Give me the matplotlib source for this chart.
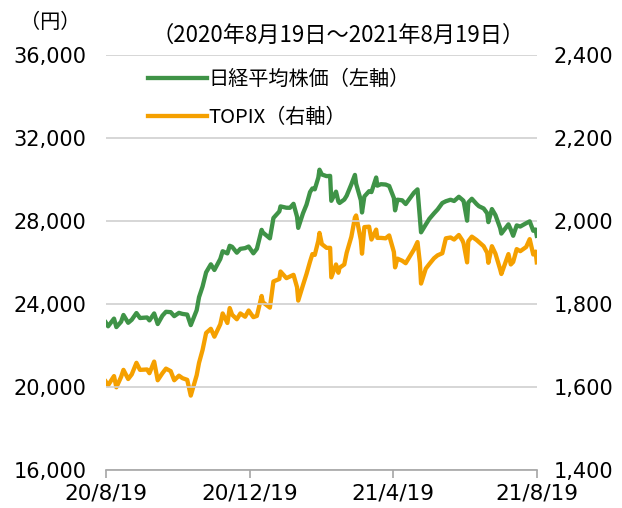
import pandas as pd
import matplotlib
matplotlib.use('Agg')
import matplotlib.pyplot as plt
import matplotlib.ticker as ticker

plt.rcParams['font.family'] = ['DejaVu Sans', 'Noto Sans CJK JP']
jp = ['Noto Sans CJK JP', 'DejaVu Sans']

dates = ['2020-08-19', '2020-08-21', '2020-08-26', '2020-08-28', '2020-09-01', '2020-09-03',
         '2020-09-07', '2020-09-10', '2020-09-14', '2020-09-17', '2020-09-23', '2020-09-25',
         '2020-09-29', '2020-10-02', '2020-10-06', '2020-10-09', '2020-10-13', '2020-10-16',
         '2020-10-20', '2020-10-23', '2020-10-27', '2020-10-30', '2020-11-04', '2020-11-06',
         '2020-11-09', '2020-11-12', '2020-11-16', '2020-11-19', '2020-11-24', '2020-11-26',
         '2020-11-30', '2020-12-02', '2020-12-04', '2020-12-08', '2020-12-11', '2020-12-15',
         '2020-12-18', '2020-12-22', '2020-12-25', '2020-12-29', '2020-12-30', '2021-01-05',
         '2021-01-08', '2021-01-13', '2021-01-14', '2021-01-19', '2021-01-22', '2021-01-25',
         '2021-01-28', '2021-01-29', '2021-02-02', '2021-02-05', '2021-02-08', '2021-02-10',
         '2021-02-12', '2021-02-15', '2021-02-16', '2021-02-18', '2021-02-22', '2021-02-25',
         '2021-02-26', '2021-03-02', '2021-03-04', '2021-03-05', '2021-03-09', '2021-03-11',
         '2021-03-15', '2021-03-18', '2021-03-19', '2021-03-23', '2021-03-24', '2021-03-26',
         '2021-03-30', '2021-04-01', '2021-04-05', '2021-04-06', '2021-04-09', '2021-04-13',
         '2021-04-16', '2021-04-20', '2021-04-21', '2021-04-23', '2021-04-27', '2021-04-30',
         '2021-05-07', '2021-05-10', '2021-05-12', '2021-05-13', '2021-05-17', '2021-05-20',
         '2021-05-24', '2021-05-27', '2021-05-31', '2021-06-03', '2021-06-07', '2021-06-10',
         '2021-06-14', '2021-06-17', '2021-06-18', '2021-06-21', '2021-06-22', '2021-06-25',
         '2021-06-29', '2021-07-01', '2021-07-05', '2021-07-08', '2021-07-09', '2021-07-12',
         '2021-07-15', '2021-07-19', '2021-07-20', '2021-07-26', '2021-07-28', '2021-07-30',
         '2021-08-02', '2021-08-05', '2021-08-10', '2021-08-13', '2021-08-16', '2021-08-18',
         '2021-08-19']

nikkei = [23110, 22920, 23290, 22882, 23138, 23465,
          23089, 23235, 23559, 23319, 23346, 23204,
          23539, 23029, 23433, 23619, 23601, 23410,
          23567, 23516, 23485, 22977, 23695, 24325,
          24839, 25520, 25906, 25634, 26165, 26537,
          26433, 26800, 26751, 26467, 26652, 26687,
          26763, 26436, 26656, 27568, 27444, 27158,
          28139, 28456, 28698, 28633, 28631, 28822,
          28197, 27663, 28362, 28779, 29388, 29562,
          29520, 30084, 30467, 30236, 30156, 30168,
          28966, 29408, 28930, 28864, 29028, 29211,
          29766, 30216, 29792, 28995, 28405, 29176,
          29432, 29388, 30089, 29696, 29768, 29751,
          29683, 29101, 28508, 29020, 28991, 28812,
          29357, 29518, 28147, 27448, 27824, 28098,
          28364, 28549, 28860, 28946, 29019, 28958,
          29161, 29018, 28964, 28010, 28884, 29066,
          28812, 28707, 28598, 28366, 27940, 28569,
          28279, 27652, 27388, 27833, 27581, 27283,
          27781, 27728, 27888, 27977, 27523, 27585,
          27281]

topix = [1613, 1604, 1626, 1599, 1624, 1641,
         1619, 1630, 1658, 1641, 1642, 1633,
         1661, 1616, 1633, 1644, 1638, 1616,
         1627, 1621, 1617, 1579, 1628, 1658,
         1689, 1730, 1740, 1721, 1751, 1777,
         1754, 1790, 1774, 1763, 1777, 1769,
         1784, 1768, 1771, 1819, 1804, 1791,
         1854, 1860, 1878, 1862, 1866, 1870,
         1840, 1808, 1845, 1872, 1902, 1920,
         1918, 1952, 1971, 1944, 1935, 1935,
         1864, 1895, 1875, 1887, 1895, 1923,
         1962, 2008, 2013, 1954, 1921, 1985,
         1986, 1955, 1979, 1959, 1959, 1958,
         1965, 1925, 1888, 1909, 1904, 1898,
         1931, 1949, 1899, 1849, 1885, 1896,
         1910, 1917, 1922, 1958, 1960, 1955,
         1966, 1953, 1946, 1900, 1951, 1962,
         1954, 1949, 1939, 1923, 1899, 1939,
         1921, 1883, 1872, 1920, 1895, 1901,
         1932, 1927, 1937, 1956, 1919, 1926,
         1900]

tick_dates = ['2020-08-19', '2020-12-19', '2021-04-19', '2021-08-19']
tick_labels = ['20/8/19', '20/12/19', '21/4/19', '21/8/19']

x = pd.to_datetime(dates)
green = '#3f9347'
orange = '#f5a000'

fig = plt.figure(figsize=(6.22, 5.08), dpi=100)
ax = fig.add_axes([0.170, 0.075, 0.693, 0.817])
ax2 = ax.twinx()

l1, = ax.plot(x, nikkei, color=green, lw=3.1, label='日経平均株価（左軸）')
l2, = ax2.plot(x, topix, color=orange, lw=3.1, label='TOPIX（右軸）')
ax.set_zorder(ax2.get_zorder() + 1)
ax.patch.set_visible(False)

ax.set_ylim(16000, 36000)
ax.set_yticks(range(16000, 36001, 4000))
ax.yaxis.set_major_formatter(ticker.StrMethodFormatter('{x:,.0f}'))
ax2.set_ylim(1400, 2400)
ax2.set_yticks(range(1400, 2401, 200))
ax2.yaxis.set_major_formatter(ticker.StrMethodFormatter('{x:,.0f}'))

ax.set_xlim(pd.Timestamp('2020-08-19'), pd.Timestamp('2021-08-19'))
ax.set_xticks(pd.to_datetime(tick_dates))
ax.set_xticklabels(tick_labels)

for a in (ax, ax2):
    for s in a.spines.values():
        s.set_visible(False)
ax.spines['bottom'].set_visible(True)
ax.spines['bottom'].set_color('#a6a6a6')
ax.spines['bottom'].set_linewidth(1.2)
ax.grid(axis='y', color='#d0d0d0', lw=1.2)
ax.set_axisbelow(True)
ax.tick_params(axis='x', length=6, color='#a6a6a6', width=1.2, labelsize=15.5, pad=4)
ax.tick_params(axis='y', length=0, labelsize=15, pad=14)
ax2.tick_params(axis='y', length=0, labelsize=15, pad=12)

fig.text(0.08, 0.955, '（円）', fontsize=14.5, family=jp, ha='center', va='center')
fig.text(0.543, 0.93, '（2020年8月19日～2021年8月19日）', fontsize=16, family=jp,
         ha='center', va='center')

ax.legend(handles=[l1, l2], loc='upper left', bbox_to_anchor=(0.209, 0.90),
          bbox_transform=fig.transFigure, frameon=False, handlelength=2.9,
          handletextpad=0.1, labelspacing=0.85, prop={'family': jp, 'size': 14.5})

fig.savefig('out.png', dpi=100)
